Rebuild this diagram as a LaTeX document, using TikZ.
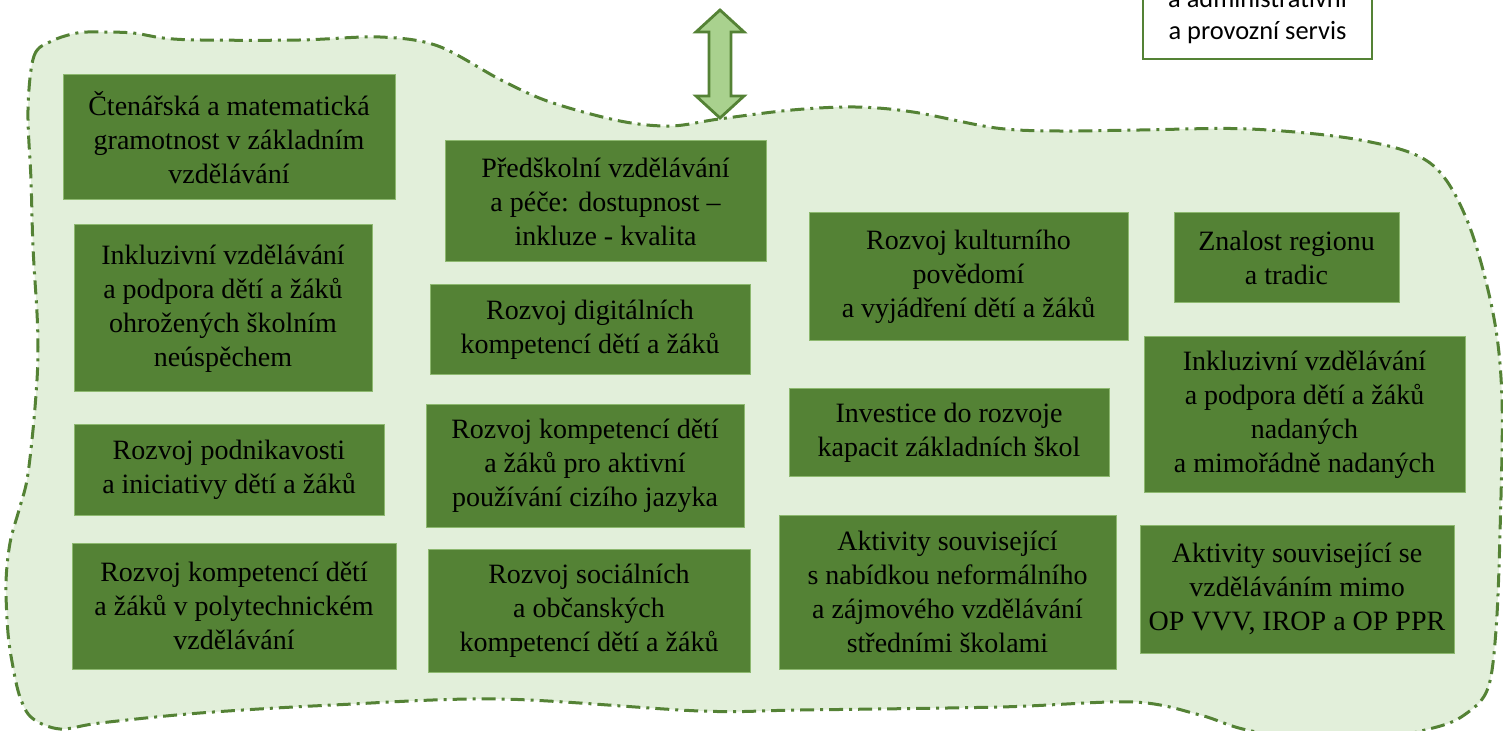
\documentclass[tikz,border=0pt]{standalone}
\usepackage{fontspec}
\setmainfont{Liberation Serif}
\newfontfamily\carlito{Carlito}
\definecolor{dkgreen}{HTML}{548235}
\definecolor{ltgreen}{HTML}{E2EFDA}
\definecolor{midgreen}{HTML}{A9D18E}
\definecolor{edgegreen}{HTML}{8DB86F}
\tikzset{
  gbox/.style={rectangle, fill=dkgreen, draw=edgegreen, line width=0.5pt, align=center,
    text=black, inner sep=2pt, font=\fontsize{14}{17}\selectfont},
  wbox/.style={rectangle, fill=white, draw=dkgreen, line width=1.2pt, align=center,
    text=black, inner xsep=4pt, inner ysep=7.5pt, font=\carlito\fontsize{13.2}{16}\selectfont},
  blob/.style={fill=ltgreen, draw=dkgreen, line width=1.5pt,
    dash pattern=on 7pt off 3pt on 1.5pt off 3pt},
  dblarrow/.style={fill=midgreen, draw=dkgreen, line width=1.4pt, line join=miter}
}
\begin{document}
\begin{tikzpicture}[x=0.5pt,y=-0.5pt]
\useasboundingbox (0,0) rectangle (1503,731);
% blob region
\draw[blob] plot[smooth cycle, tension=0.55] coordinates {
 (28,110) (34,56) (52,41) (77,33) (100,32) (133,33) (163,38) (200,40) (300,40) (380,37)
 (438,46) (501,80) (550,102) (620,121) (671,126) (719,119) (792,110) (855,107) (913,112)
 (996,128) (1059,131) (1140,130) (1250,129) (1360,140) (1430,163) (1467,220) (1493,313)
 (1502,400) (1500,533) (1496,630) (1488,688) (1467,713) (1433,728) (1340,745) (1247,730)
 (1200,715) (1133,702) (1000,707) (800,710) (700,711) (500,699) (333,705) (200,713)
 (100,723) (60,729) (32,718) (20,697) (13,667) (8,633) (6,583) (10,543) (19,510)
 (27,480) (33,430) (37,380) (38,347) (37,313) (33,247) (31,180)
};
% double arrow
\draw[dblarrow] (720,10) -- (744,32) -- (731,32) -- (731,96) -- (744,96) -- (720,118)
  -- (696,96) -- (709,96) -- (709,32) -- (696,32) -- cycle;
% top right white box (cut off by the page edge, as in the reference)
\node[wbox, minimum width=114.5pt, anchor=south] (servis) at (1257.5,60)
  {a administrativní\\a provozní servis};
% column 1
\node[gbox, minimum width=166pt, minimum height=62.5pt] (b1) at (229,137.5)
  {Čtenářská a matematická\\gramotnost v základním\\vzdělávání};
\node[gbox, minimum width=149pt, minimum height=83.5pt] (b2) at (223,308.5)
  {Inkluzivní vzdělávání\\a podpora dětí a žáků\\ohrožených školním\\neúspěchem};
\node[gbox, minimum width=155pt, minimum height=45pt] (b3) at (229,470)
  {Rozvoj podnikavosti\\a iniciativy dětí a žáků};
\node[gbox, minimum width=162pt, minimum height=63pt] (b4) at (234,606)
  {Rozvoj kompetencí dětí\\a žáků v polytechnickém\\vzdělávání};
% column 2
\node[gbox, minimum width=160.5pt, minimum height=60.5pt] (b5) at (605.5,201.5)
  {Předškolní vzdělávání\\a péče: dostupnost –\\inkluze - kvalita};
\node[gbox, minimum width=160pt, minimum height=45pt] (b6) at (590,330)
  {Rozvoj digitálních\\kompetencí dětí a žáků};
\node[gbox, minimum width=159pt, minimum height=61pt] (b7) at (585,466)
  {Rozvoj kompetencí dětí\\a žáků pro aktivní\\používání cizího jazyka};
\node[gbox, minimum width=161pt, minimum height=61.5pt] (b8) at (589,610.5)
  {Rozvoj sociálních\\a občanských\\kompetencí dětí a žáků};
% column 3
\node[gbox, minimum width=159.5pt, minimum height=64pt] (b9) at (968.5,277)
  {Rozvoj kulturního\\povědomí\\a vyjádření dětí a žáků};
\node[gbox, minimum width=160pt, minimum height=44pt] (b10) at (949,433)
  {Investice do rozvoje\\kapacit základních škol};
\node[gbox, minimum width=168.5pt, minimum height=77pt] (b11) at (947.5,592)
  {Aktivity související\\s nabídkou neformálního\\a zájmového vzdělávání\\středními školami};
% column 4
\node[gbox, minimum width=112.5pt, minimum height=45pt] (b12) at (1286.5,258)
  {Znalost regionu\\a tradic};
\node[gbox, minimum width=160.5pt, minimum height=78pt] (b13) at (1304.5,415)
  {Inkluzivní vzdělávání\\a podpora dětí a žáků\\nadaných\\a mimořádně nadaných};
\node[gbox, minimum width=157pt, minimum height=64pt] (b14) at (1297,589)
  {Aktivity související se\\vzděláváním mimo\\OP VVV, IROP a OP PPR};
\end{tikzpicture}
\end{document}
